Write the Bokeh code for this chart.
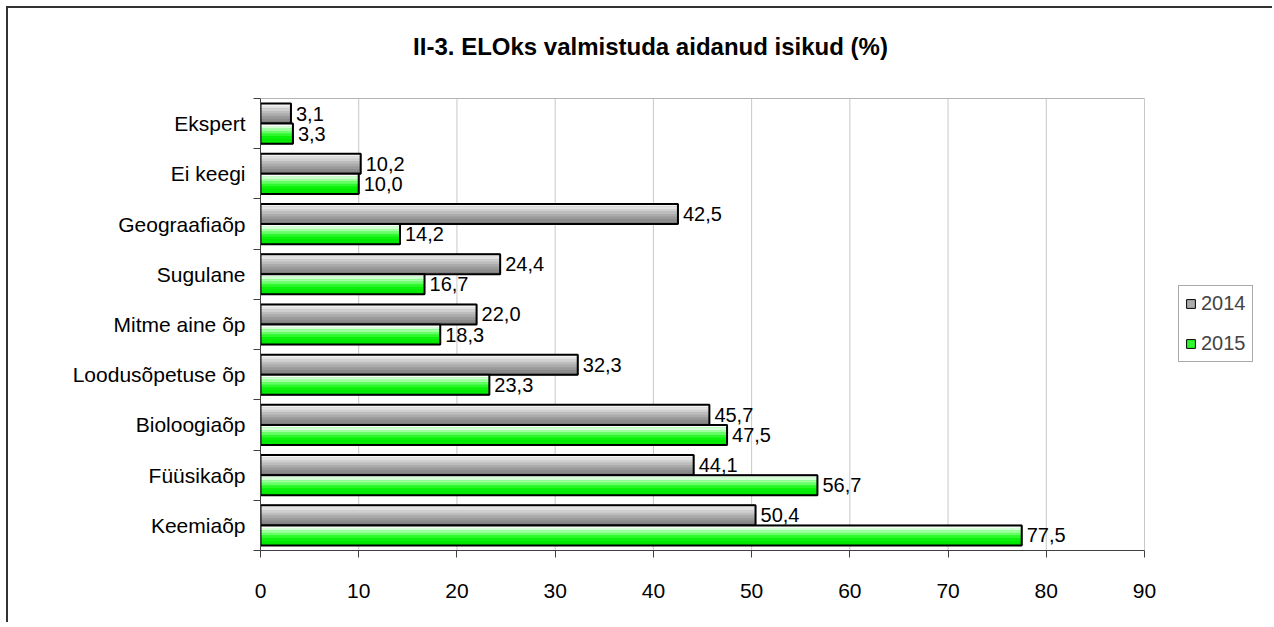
from bokeh.plotting import figure
from bokeh.models import (ColumnDataSource, FixedTicker, Legend, LegendItem, Range1d)
from bokeh.core.properties import value
from bokeh.embed import file_html
from bokeh.resources import INLINE

# ---- data ----
categories = ["Ekspert", "Ei keegi", "Geograafiaõp", "Sugulane", "Mitme aine õp",
              "Loodusõpetuse õp", "Bioloogiaõp", "Füüsikaõp", "Keemiaõp"]
values_2014 = [3.1, 10.2, 42.5, 24.4, 22.0, 32.3, 45.7, 44.1, 50.4]
values_2015 = [3.3, 10.0, 14.2, 16.7, 18.3, 23.3, 47.5, 56.7, 77.5]
series_names = ["2014", "2015"]
x_ticks = [0, 10, 20, 30, 40, 50, 60, 70, 80, 90]
title_text = "II-3. ELOks valmistuda aidanud isikud (%)"

FONT = "Liberation Sans"
n = len(categories)
centers = [n - i - 0.5 for i in range(n)]  # first category at top
BAR_H = 0.4

# layout (pixels)
PLOT_W = 884          # width of the 0..90 plotting area
PLOT_H = 452          # height of the category area
EXTRA_W = 128         # room on the right for the legend
EXTRA_H = 80          # room above for the title
TITLE_DY = 52         # title centre above the plotting area
TITLE_DX = 390        # title centre from the left of the plotting area

x_max = x_ticks[-1]
x_end = x_max * (PLOT_W + EXTRA_W) / PLOT_W
y_end = n * (PLOT_H + EXTRA_H) / PLOT_H

gray_grad = ["#f4f4f4", "#e2e2e2", "#d0d0d0", "#bdbdbd", "#ababab", "#9a9a9a", "#8c8c8c", "#808080"]
green_grad = ["#ffffff", "#d4ffd4", "#a0ffa0", "#66ff66", "#2cf82c", "#0af00a", "#00ea00", "#00e400"]

p = figure(frame_width=PLOT_W + EXTRA_W, frame_height=PLOT_H + EXTRA_H, output_backend="svg",
           toolbar_location=None,
           x_range=Range1d(0, x_end), y_range=Range1d(0, y_end),
           min_border_left=252, min_border_right=0, min_border_top=10, min_border_bottom=72)
p.styles = {"border-left": "2px solid #333333", "border-top": "2px solid #333333",
            "margin-left": "6px", "margin-top": "6px"}
p.background_fill_color = "white"
p.border_fill_color = "white"
p.outline_line_color = None

# grid (vertical lines only over the category area) and top border
p.xgrid.grid_line_color = None
p.ygrid.grid_line_color = None
p.segment(x0=x_ticks[1:], x1=x_ticks[1:], y0=[0] * (len(x_ticks) - 1), y1=[n] * (len(x_ticks) - 1),
          line_color="#c8c8c8", line_width=1)
p.segment(x0=[0], x1=[x_max], y0=[n], y1=[n], line_color="#b4b4b4", line_width=1)

# title
p.text(x=[TITLE_DX * x_max / PLOT_W], y=[n + TITLE_DY * n / PLOT_H], text=[title_text],
       text_align="center", text_baseline="middle", text_font=value(FONT),
       text_font_size="24px", text_font_style="bold", text_color="black")

# x axis
p.xaxis.ticker = FixedTicker(ticks=x_ticks)
p.xaxis.bounds = (0, x_max)
p.xaxis.axis_line_color = "#404040"
p.xaxis.major_tick_line_color = "#404040"
p.xaxis.major_tick_out = 7
p.xaxis.major_tick_in = 0
p.xaxis.minor_tick_line_color = None
p.xaxis.major_label_text_font = FONT
p.xaxis.major_label_text_font_size = "21px"
p.xaxis.major_label_text_color = "black"
p.xaxis.major_label_standoff = 26

# y axis
p.yaxis.ticker = FixedTicker(ticks=centers, minor_ticks=list(range(n + 1)))
p.yaxis.bounds = (0, n)
p.yaxis.major_label_overrides = {c: cat for c, cat in zip(centers, categories)}
p.yaxis.major_tick_line_color = None
p.yaxis.major_tick_out = 0
p.yaxis.major_tick_in = 0
p.yaxis.minor_tick_line_color = "#404040"
p.yaxis.minor_tick_out = 7
p.yaxis.minor_tick_in = 0
p.yaxis.axis_line_color = "#404040"
p.yaxis.major_label_text_font = FONT
p.yaxis.major_label_text_font_size = "21px"
p.yaxis.major_label_text_color = "black"
p.yaxis.major_label_standoff = 8

legend_items = []
for s, (vals, grad, offset) in enumerate([(values_2014, gray_grad, BAR_H / 2),
                                           (values_2015, green_grad, -BAR_H / 2)]):
    ys = [c + offset for c in centers]
    src = ColumnDataSource(dict(y=ys, v=vals,
                                lab=[f"{v:.1f}".replace(".", ",") for v in vals]))
    base = p.hbar(y="y", right="v", left=0, height=BAR_H, source=src,
                  fill_color=grad[4], line_color="black", line_width=1)
    nstr = len(grad)
    sh = BAR_H / nstr
    for k, col in enumerate(grad):
        dy = BAR_H / 2 - sh * (k + 0.5)
        ssrc = ColumnDataSource(dict(y=[y + dy for y in ys], v=vals))
        p.hbar(y="y", right="v", left=0, height=sh * 1.05, source=ssrc,
               fill_color=col, line_color=None)
    p.hbar(y="y", right="v", left=0, height=BAR_H, source=src,
           fill_color=None, line_color="black", line_width=2)
    p.text(x="v", y="y", text="lab", source=src, x_offset=5,
           text_baseline="middle", text_align="left",
           text_font=value(FONT), text_font_size="20px", text_color="black")
    legend_items.append(LegendItem(label=series_names[s], renderers=[base]))

legend = Legend(items=legend_items, location=(PLOT_W + 34, 188),
                label_text_font=FONT, label_text_font_size="20px",
                glyph_width=11, glyph_height=11, label_standoff=5,
                padding=6, spacing=17, margin=0,
                border_line_color="#555555", border_line_width=1,
                background_fill_color="white", background_fill_alpha=1)
p.add_layout(legend, "center")

open("out.html", "w").write(file_html(p, INLINE))
